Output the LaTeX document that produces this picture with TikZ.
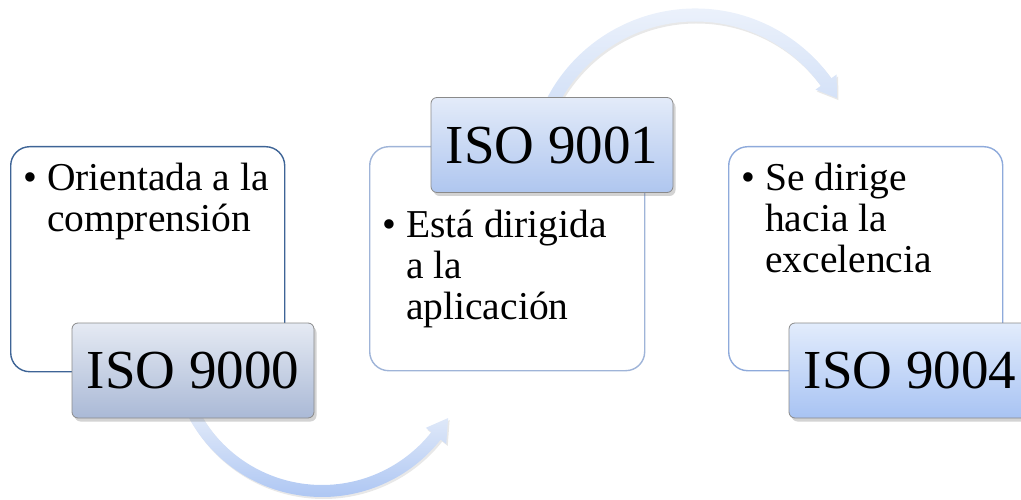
\documentclass[tikz,border=0pt]{standalone}
\usepackage{fontspec}
\setmainfont{Liberation Serif}
\usetikzlibrary{shadows,calc}
\definecolor{bordA}{HTML}{3E6496}
\definecolor{bordB}{HTML}{9FB4D8}
\definecolor{bordC}{HTML}{8EAADB}
\definecolor{lblborder}{HTML}{8A8A8A}
\definecolor{lAtop}{HTML}{E5EAF3}
\definecolor{lAbot}{HTML}{AAB9D6}
\definecolor{lBtop}{HTML}{E3EBF9}
\definecolor{lBbot}{HTML}{AFC6EF}
\definecolor{lCtop}{HTML}{E2ECFC}
\definecolor{lCbot}{HTML}{A8C3F3}
\definecolor{arAtop}{HTML}{E3EBF9}
\definecolor{arAbot}{HTML}{ADC6F3}
\definecolor{arBtop}{HTML}{F1F5FC}
\definecolor{arBbot}{HTML}{D2E0F7}
\begin{document}
\begin{tikzpicture}[x=1pt,y=-1pt,
  txtbox/.style={line width=1.4pt, rounded corners=19pt, fill=white, inner sep=0pt, anchor=north west},
  lbl/.style={draw=lblborder, line width=0.8pt, rounded corners=6pt, minimum width=242pt, minimum height=95pt, inner sep=0pt, font=\fontsize{55}{60}\selectfont, drop shadow={opacity=0.35, shadow xshift=2.5pt, shadow yshift=-3.5pt}},
  bodytxt/.style={anchor=base west, inner sep=0pt, font=\fontsize{39.5}{41}\selectfont},
  arrowshape/.style={drop shadow={opacity=0.18, shadow xshift=1.5pt, shadow yshift=-2pt}}
]
\useasboundingbox (0,0) rectangle (1021,500);

% curved arrows
\coordinate (c1) at (322,345.5);
\coordinate (c2) at (695.3,176);
\path[arrowshape, top color=arAtop, bottom color=arAbot]
  ([shift={(152:151.5)}]c1) arc[start angle=152, end angle=38.4, radius=151.5]
  -- ([shift={(38.4:158.5)}]c1) -- ([shift={(29.9:145.5)}]c1)
  -- ([shift={(38.4:132.5)}]c1) -- ([shift={(38.4:139.5)}]c1)
  arc[start angle=38.4, end angle=152, radius=139.5] -- cycle;
\path[arrowshape, top color=arBtop, bottom color=arBbot]
  ([shift={(-154:167.5)}]c2) arc[start angle=-154, end angle=-35.7, radius=167.5]
  -- ([shift={(-35.7:174)}]c2) -- ([shift={(-28.8:161.7)}]c2)
  -- ([shift={(-35.7:148)}]c2) -- ([shift={(-35.7:154.5)}]c2)
  arc[start angle=-35.7, end angle=-154, radius=154.5] -- cycle;

% text boxes
\node[txtbox, draw=bordA, minimum width=274pt, minimum height=225pt] (box1) at (10,146) {};
\node[txtbox, draw=bordB, minimum width=275pt, minimum height=224pt] (box2) at (369,146) {};
\node[txtbox, draw=bordC, minimum width=274pt, minimum height=224pt] (box3) at (728,146) {};

\node[bodytxt] (t1) at (23,190) {\begin{tabular}[t]{@{}l@{}l@{}}\makebox[24pt][l]{•} & Orientada a la\\ & comprensión\end{tabular}};
\node[bodytxt] (t2) at (382,237) {\begin{tabular}[t]{@{}l@{}l@{}}\makebox[24pt][l]{•} & Está dirigida\\ & a la\\ & aplicación\end{tabular}};
\node[bodytxt] (t3) at (741,190) {\begin{tabular}[t]{@{}l@{}l@{}}\makebox[24pt][l]{•} & Se dirige\\ & hacia la\\ & excelencia\end{tabular}};

% labels
\node[lbl, top color=lAtop, bottom color=lAbot] (l1) at (193,370.5) {ISO 9000};
\node[lbl, top color=lBtop, bottom color=lBbot] (l2) at (552,145) {ISO 9001};
\node[lbl, top color=lCtop, bottom color=lCbot] (l3) at (910,370.5) {ISO 9004};
\end{tikzpicture}
\end{document}
